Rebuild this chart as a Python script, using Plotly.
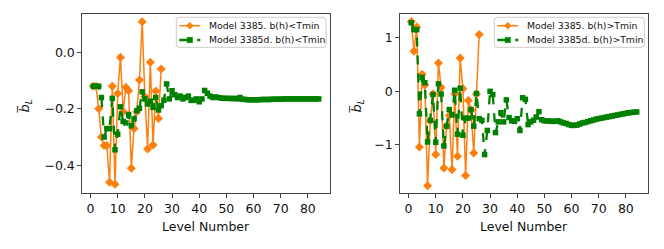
import plotly.graph_objects as go
from plotly.subplots import make_subplots

# ---------------- data ----------------
levels_orange = list(range(1, 27))
levels_green = list(range(1, 85))

left_orange = [-0.12, -0.12, -0.20, -0.30, -0.33, -0.33, -0.46, -0.12, -0.467, -0.146,
               -0.018, -0.21, -0.124, -0.136, -0.41, -0.27, -0.21, -0.098, 0.108, -0.157,
               -0.342, -0.035, -0.328, -0.137, -0.234, -0.059]

left_green = [-0.12, -0.12, -0.12, -0.16, -0.30, -0.27, -0.27, -0.163, -0.345, -0.29,
              -0.193, -0.245, -0.25, -0.22, -0.26, -0.236, -0.207, -0.198, -0.14, -0.165,
              -0.183, -0.173, -0.195, -0.16, -0.204, -0.189, -0.17, -0.112, -0.165, -0.136,
              -0.15, -0.16, -0.155, -0.165, -0.16, -0.155, -0.17, -0.17, -0.165, -0.175,
              -0.165, -0.135, -0.145, -0.155, -0.16, -0.158, -0.16, -0.162, -0.163, -0.163,
              -0.163, -0.164, -0.163, -0.165, -0.16, -0.166, -0.167, -0.168, -0.168, -0.168,
              -0.168, -0.168, -0.167, -0.167, -0.167, -0.167, -0.166, -0.166, -0.166, -0.166,
              -0.165, -0.165, -0.165, -0.165, -0.165, -0.165, -0.165, -0.165, -0.165, -0.165,
              -0.165, -0.165, -0.165, -0.165]

right_orange = [1.30, 0.75, 1.20, -1.04, 0.32, 0.12, -1.76, -0.55, -0.05, -1.18,
                0.53, 0.07, -1.43, -0.65, -0.45, -1.46, -0.05, -1.21, 0.62, 0.05,
                -1.57, -0.17, -0.35, -1.15, -0.05, 1.06]

right_green = [1.28, 1.15, 1.15, -0.42, 0.26, 0.16, -0.945, -0.54, -0.06, -0.95,
               0.14, -0.05, -1.02, -0.65, -0.34, -0.44, 0.02, -0.80, 0.06, -0.82,
               -0.50, -0.50, -0.34, -0.65, -0.04, -0.51, -0.54, -1.18, -0.73, 0.0,
               -0.06, -0.77, -0.57, -0.40, -0.57, -0.16, -0.49, -0.55, -0.56, -0.51,
               -0.73, -0.12, -0.15, -0.62, -0.57, -0.54, -0.48, -0.38, -0.53, -0.55,
               -0.55, -0.555, -0.56, -0.56, -0.55, -0.57, -0.59, -0.60, -0.62, -0.635,
               -0.635, -0.63, -0.61, -0.59, -0.58, -0.565, -0.55, -0.535, -0.52, -0.51,
               -0.50, -0.49, -0.48, -0.47, -0.46, -0.45, -0.44, -0.43, -0.42, -0.41,
               -0.40, -0.395, -0.39, -0.385]

names_left = ["Model 3385. b(h)<Tmin", "Model 3385d. b(h)<Tmin"]
names_right = ["Model 3385. b(h)>Tmin", "Model 3385d. b(h)>Tmin"]
x_ticks = list(range(0, 90, 10))
left_yticks = [-0.4, -0.2, 0.0]
right_yticks = [-1, 0, 1]

# ---------------- figure ----------------
ORANGE = "#ff7f0e"
GREEN = "#008000"
FONT = "DejaVu Sans"
TXT = "#111111"

W, H = 664, 249
ML, MR, MT, MB = 82, 16, 14, 56
pw = W - ML - MR
ph = H - MT - MB


def px_x(p):
    return (p - ML) / pw


def px_y(p):
    return 1 - (p - MT) / ph


fig = make_subplots(rows=1, cols=2)


def add_pair(col, xo, yo, xg, yg, names):
    fig.add_trace(go.Scatter(x=xo, y=yo, mode="lines+markers", name=names[0],
                             line=dict(color=ORANGE, width=1.5),
                             marker=dict(symbol="diamond", size=7, color=ORANGE),
                             showlegend=False), row=1, col=col)
    fig.add_trace(go.Scatter(x=xg, y=yg, mode="lines+markers", name=names[1],
                             line=dict(color=GREEN, width=2.3, dash="dash"),
                             marker=dict(symbol="square", size=5.5, color=GREEN),
                             showlegend=False), row=1, col=col)


add_pair(1, levels_orange, left_orange, levels_green, left_green, names_left)
add_pair(2, levels_orange, right_orange, levels_green, right_green, names_right)

axis_common = dict(showline=True, linecolor="#444", linewidth=1.2, mirror=True,
                   ticks="outside", ticklen=3.5, tickwidth=1, tickcolor="#444",
                   showgrid=False, zeroline=False,
                   tickfont=dict(family=FONT, size=12.5, color=TXT))

fig.update_xaxes(**axis_common, tickvals=x_ticks, range=[-3.15, 88.15])
fig.update_xaxes(domain=[0, px_x(330)], row=1, col=1)
fig.update_xaxes(domain=[px_x(400), 1], row=1, col=2)
fig.update_yaxes(**axis_common)
fig.update_yaxes(range=[-0.498, 0.1356], tickvals=left_yticks, tickformat=".1f", row=1, col=1)
fig.update_yaxes(range=[-1.897, 1.443], tickvals=right_yticks, tickformat="d", row=1, col=2)

fig.update_layout(
    width=W, height=H,
    margin=dict(l=ML, r=MR, t=MT, b=MB),
    plot_bgcolor="white", paper_bgcolor="white",
    font=dict(family=FONT, color=TXT),
    showlegend=False,
    hovermode=False,
)

# axis labels
for cx in (206, 524):
    fig.add_annotation(x=px_x(cx), y=px_y(227), xref="paper", yref="paper",
                       text="Level Number", showarrow=False, xanchor="center", yanchor="middle",
                       font=dict(family=FONT, size=12.5, color=TXT))
for cx in (25, 357):
    fig.add_annotation(x=px_x(cx), y=px_y(106), xref="paper", yref="paper",
                       text="<i>b\u0305</i><sub><i>L</i></sub>", textangle=-90, showarrow=False,
                       xanchor="center", yanchor="middle",
                       font=dict(family=FONT, size=13, color=TXT))


# legends (matplotlib-style box inside the upper right of each axes)
def rounded_box(x0, y0, x1, y1, r=3):
    rx, ry = r / pw, r / ph
    X0, X1 = px_x(x0), px_x(x1)
    Y0, Y1 = px_y(y0), px_y(y1)  # Y0 top, Y1 bottom
    return (f"M {X0+rx},{Y0} L {X1-rx},{Y0} Q {X1},{Y0} {X1},{Y0-ry} "
            f"L {X1},{Y1+ry} Q {X1},{Y1} {X1-rx},{Y1} L {X0+rx},{Y1} "
            f"Q {X0},{Y1} {X0},{Y1+ry} L {X0},{Y0-ry} Q {X0},{Y0} {X0+rx},{Y0} Z")


def diamond(cx, cy, r):
    return (f"M {px_x(cx)},{px_y(cy - r)} L {px_x(cx + r)},{px_y(cy)} "
            f"L {px_x(cx)},{px_y(cy + r)} L {px_x(cx - r)},{px_y(cy)} Z")


def add_legend(box_left, box_right, names):
    top, bottom = 17.3, 47.3
    fig.add_shape(type="path", path=rounded_box(box_left, top, box_right, bottom),
                  xref="paper", yref="paper", line=dict(color="#cccccc", width=1),
                  fillcolor="rgba(255,255,255,0.85)", layer="above")
    rows = [25.7, 40.0]
    x0, x1, xm = box_left + 3, box_left + 24, box_left + 13.5
    # orange entry
    fig.add_shape(type="line", x0=px_x(x0), x1=px_x(x1), y0=px_y(rows[0]), y1=px_y(rows[0]),
                  xref="paper", yref="paper", line=dict(color=ORANGE, width=1.5), layer="above")
    fig.add_shape(type="path", path=diamond(xm, rows[0], 3.5), xref="paper", yref="paper",
                  line=dict(color=ORANGE, width=0.5), fillcolor=ORANGE, layer="above")
    # green entry
    fig.add_shape(type="line", x0=px_x(x0), x1=px_x(x1), y0=px_y(rows[1]), y1=px_y(rows[1]),
                  xref="paper", yref="paper", line=dict(color=GREEN, width=2.3, dash="dash"),
                  layer="above")
    fig.add_shape(type="rect", x0=px_x(xm - 2.7), x1=px_x(xm + 2.7),
                  y0=px_y(rows[1] - 2.7), y1=px_y(rows[1] + 2.7), xref="paper", yref="paper",
                  line=dict(color=GREEN, width=0.5), fillcolor=GREEN, layer="above")
    for name, ry in zip(names, rows):
        fig.add_annotation(x=px_x(box_left + 30.7), y=px_y(ry), xref="paper", yref="paper",
                           text=name.replace("<", "&lt;").replace(">", "&gt;"),
                           showarrow=False, xanchor="left", yanchor="middle",
                           font=dict(family=FONT, size=9.3, color=TXT))


add_legend(176.3, 326.0, names_left)
add_legend(494.3, 644.3, names_right)

fig.write_html("out.html",
               config={"displayModeBar": False, "staticPlot": True},
               post_script="document.body.style.margin='0';document.body.style.padding='0';")
